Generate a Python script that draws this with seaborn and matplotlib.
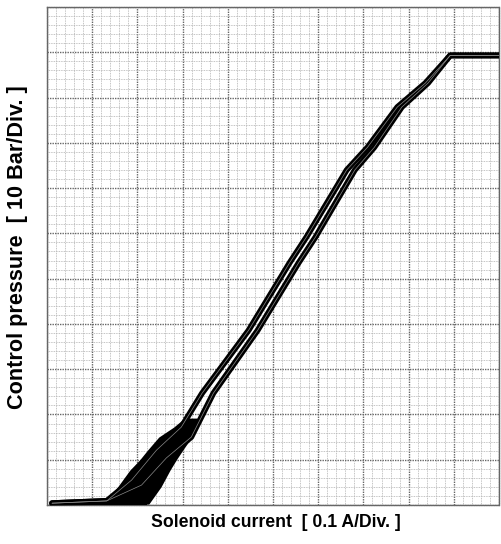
import numpy as np
import pandas as pd
import matplotlib
matplotlib.use("Agg")
import matplotlib.pyplot as plt
import seaborn as sns
from matplotlib.ticker import MultipleLocator

# Hysteresis loop, units: divisions (x: 0.1 A/Div, y: 10 Bar/Div)
left_x = [0.11, 1.32, 1.87, 2.42, 2.97, 3.43, 4.46, 5.36, 5.74, 6.63, 7.09, 7.75, 8.37, 8.92, 10.0]
left_y = [0.04, 0.09, 0.55, 1.21, 1.72, 2.47, 3.86, 5.34, 5.92, 7.40, 7.90, 8.79, 9.32, 9.93, 9.93]
right_x = [0.11, 1.32, 2.09, 2.64, 3.19, 3.68, 4.66, 5.56, 5.94, 6.81, 7.24, 7.85, 8.43, 8.92, 10.0]
right_y = [0.04, 0.09, 0.44, 1.04, 1.50, 2.47, 3.86, 5.34, 5.92, 7.40, 7.90, 8.79, 9.32, 9.93, 9.93]

# Noisy region near onset: left / right envelope per pressure level
blob_y = [0.02, 0.40, 0.77, 1.00, 1.21, 1.50, 1.72, 1.92]
blob_left = [1.28, 1.56, 1.83, 2.05, 2.22, 2.47, 2.80, 3.04]
blob_right = [2.25, 2.52, 2.72, 2.86, 3.00, 3.20, 3.27, 3.32]

# Flat low section
flat_x = [0.05, 1.0, 2.2]
flat_lo = [0.0, 0.01, 0.01]
flat_hi = [0.09, 0.14, 0.12]

sns.set_style("white")
plt.rcParams['font.family'] = ['Liberation Sans', 'DejaVu Sans']

fig = plt.figure(figsize=(5.01, 5.44), dpi=100)
ax = fig.add_axes([0.094, 0.0717, 0.902, 0.9154])

ax.set_xlim(0, 10)
ax.set_ylim(0, 11)
ax.xaxis.set_major_locator(MultipleLocator(1))
ax.yaxis.set_major_locator(MultipleLocator(1))
ax.xaxis.set_minor_locator(MultipleLocator(0.2))
ax.yaxis.set_minor_locator(MultipleLocator(0.2))
ax.grid(which='minor', color='#b0b0b0', linewidth=0.6, linestyle=(0, (1, 1)))
ax.grid(which='major', color='#666666', linewidth=1.0, linestyle=(0, (1, 0.8)))
ax.tick_params(which='both', length=0, labelbottom=False, labelleft=False)
for s in ax.spines.values():
    s.set_color('#666666')
    s.set_linewidth(1.0)
    s.set_linestyle((0, (1, 0.8)))
ax.set_axisbelow(True)

ax.fill_betweenx(blob_y, blob_left, blob_right, color='black', linewidth=0, zorder=3)
ax.fill_between(flat_x, flat_lo, flat_hi, color='black', linewidth=0, zorder=3)

df_l = pd.DataFrame({'x': left_x, 'y': left_y})
df_r = pd.DataFrame({'x': right_x, 'y': right_y})
for d in (df_l, df_r):
    sns.lineplot(data=d, x='x', y='y', sort=False, color='black', linewidth=4.2, ax=ax, zorder=4,
                 solid_joinstyle='round', solid_capstyle='round')
for d in (df_l, df_r):
    sns.lineplot(data=d, x='x', y='y', sort=False, color='#8a8a8a', linewidth=0.5, ax=ax, zorder=5,
                 solid_joinstyle='round')
ax.set_xlabel('')
ax.set_ylabel('')

fig.text(0.551, 0.040, 'Solenoid current  [ 0.1 A/Div. ]', fontsize=12.7, fontweight='bold',
         ha='center', va='center', color='black')
fig.text(0.034, 0.545, 'Control pressure  [ 10 Bar/Div. ]', fontsize=15.6, fontweight='bold',
         ha='center', va='center', rotation=90, color='black')

fig.savefig('out.png', dpi=100)
